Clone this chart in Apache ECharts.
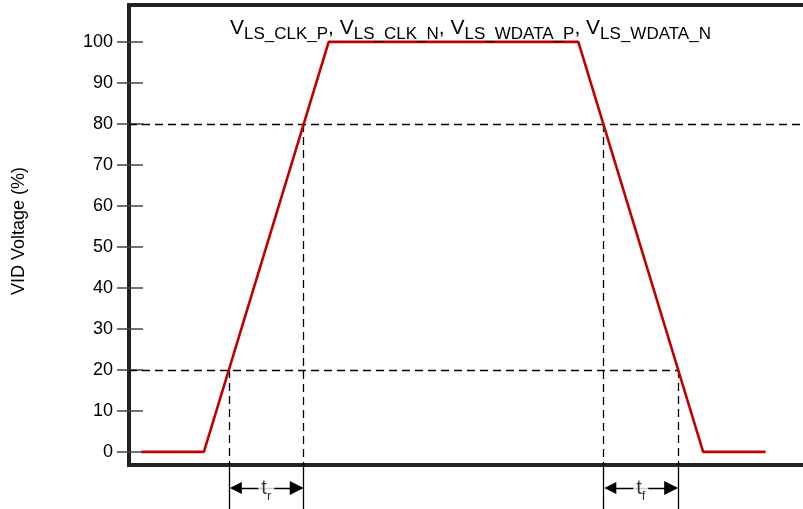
<!DOCTYPE html>
<html>
<head>
<meta charset="utf-8">
<script src="https://cdn.jsdelivr.net/npm/echarts@6/dist/echarts.min.js"></script>
<style>
  html, body { margin: 0; padding: 0; background: #fff; }
  #chart { width: 803px; height: 509px; }
</style>
</head>
<body>
<div id="chart"></div>
<script>
// Low-speed signal waveform (time in arbitrary units, voltage in % of VID)
const waveTime = [1, 6, 16, 36, 46, 51];
const waveLevel = [0, 0, 100, 100, 0, 0];

// Threshold levels used to measure rise / fall time
const thresholdLow = 20;
const thresholdHigh = 80;

// Time points where the edge crosses the thresholds
const riseCross = [8, 14];   // 20% -> 80% on the rising edge
const fallCross = [38, 44];  // 80% -> 20% on the falling edge

// Y axis tick labels
const yTicks = [0, 10, 20, 30, 40, 50, 60, 70, 80, 90, 100];

// Axis extents
const xMin = 0, xMax = 54;
const yMin = -3.2, yMax = 109;

// Level (below the frame) at which the timing arrows sit
const arrowLevel = -8.8;
const extBottom = -14.5;

const FONT = 'Liberation Sans, Arial, Helvetica, sans-serif';
const GRID_W = 675;
const ARROW_LEN = 14;   // arrowhead length in px
// half an arrowhead expressed in x units, so the tips touch the extension lines
const arrowInset = (ARROW_LEN / 2) * (xMax - xMin) / GRID_W;

const chart = echarts.init(document.getElementById('chart'));

const frameLine = { color: '#222', width: 4, cap: 'square' };
const dashed = { color: '#000', width: 1.3, type: [8, 5], opacity: 1 };
const solid = { color: '#000', width: 1.3, opacity: 1 };

const wave = waveTime.map((t, i) => [t, waveLevel[i]]);

// Dashed guide lines: threshold levels and crossing times
const guides = [
  { coords: [[xMin, thresholdHigh], [xMax, thresholdHigh]] },
  { coords: [[xMin, thresholdLow], [fallCross[1], thresholdLow]] },
  { coords: [[riseCross[0], thresholdLow], [riseCross[0], yMin]] },
  { coords: [[riseCross[1], thresholdHigh], [riseCross[1], yMin]] },
  { coords: [[fallCross[0], thresholdHigh], [fallCross[0], yMin]] },
  { coords: [[fallCross[1], thresholdLow], [fallCross[1], yMin]] }
];

// Solid extension lines below the frame
const extensions = riseCross.concat(fallCross).map(t => ({ coords: [[t, yMin], [t, extBottom]] }));

// Double-headed timing arrows
const arrows = [riseCross, fallCross].map(p => ({
  coords: [[p[0] + arrowInset, arrowLevel], [p[1] - arrowInset, arrowLevel]]
}));

const subRich = {
  v: { fontSize: 21, fontWeight: 'normal', fontFamily: FONT, color: '#000', lineHeight: 24, verticalAlign: 'bottom' },
  s: { fontSize: 17, fontWeight: 'normal', fontFamily: FONT, color: '#000', lineHeight: 17, verticalAlign: 'bottom', padding: [0, 0, -4, 0] }
};

const signalNames = ['LS_CLK_P', 'LS_CLK_N', 'LS_WDATA_P', 'LS_WDATA_N'];
const titleText = signalNames.map(n => '{v|V}{s|' + n + '}').join('{v|, }');

function timingLabel(pair, sub) {
  return {
    type: 'scatter',
    silent: true,
    symbolSize: 0,
    clip: false,
    z: 5,
    data: [[(pair[0] + pair[1]) / 2, arrowLevel]],
    label: {
      show: true,
      position: 'inside',
      formatter: '{t|t}{u|' + sub + '}',
      backgroundColor: '#fff',
      padding: [0, 3, 0, 3],
      rich: {
        t: { fontSize: 20, fontFamily: FONT, color: '#000', lineHeight: 22, verticalAlign: 'bottom' },
        u: { fontSize: 13, fontFamily: FONT, color: '#000', lineHeight: 13, verticalAlign: 'bottom', padding: [0, 0, -4, 0] }
      }
    }
  };
}

chart.setOption({
  animation: false,
  title: {
    text: titleText,
    left: 225,
    top: 10,
    textStyle: { fontWeight: 'normal', rich: subRich }
  },
  graphic: [{
    type: 'text',
    x: 19,
    y: 231,
    rotation: Math.PI / 2,
    style: {
      text: 'VID Voltage (%)',
      font: '18px ' + FONT,
      fill: '#000',
      align: 'center',
      verticalAlign: 'middle'
    }
  }],
  grid: { left: 129, top: 5, width: GRID_W, height: 460, containLabel: false },
  xAxis: [
    {
      type: 'value', min: xMin, max: xMax, position: 'bottom',
      axisLine: { show: true, onZero: false, lineStyle: frameLine },
      axisTick: { show: false }, axisLabel: { show: false }, splitLine: { show: false }
    },
    {
      type: 'value', min: xMin, max: xMax, position: 'top',
      axisLine: { show: true, onZero: false, lineStyle: frameLine },
      axisTick: { show: false }, axisLabel: { show: false }, splitLine: { show: false }
    }
  ],
  yAxis: [
    {
      type: 'value', min: yMin, max: yMax, position: 'left',
      axisLine: { show: true, onZero: false, lineStyle: frameLine },
      axisTick: { show: true, customValues: yTicks, length: 12, lineStyle: { color: '#444', width: 1.5 } },
      axisLabel: { show: true, customValues: yTicks, margin: 16, fontSize: 18, fontFamily: FONT, color: '#000' },
      splitLine: { show: false }
    },
    {
      type: 'value', min: yMin, max: yMax, position: 'left',
      axisLine: { show: false },
      axisTick: { show: true, inside: true, customValues: yTicks, length: 14, lineStyle: { color: '#444', width: 1.5 } },
      axisLabel: { show: false },
      splitLine: { show: false }
    }
  ],
  series: [
    {
      type: 'lines', coordinateSystem: 'cartesian2d', silent: true, z: 2,
      lineStyle: dashed, data: guides
    },
    {
      type: 'lines', coordinateSystem: 'cartesian2d', silent: true, clip: false, z: 2,
      lineStyle: solid, data: extensions
    },
    {
      type: 'lines', coordinateSystem: 'cartesian2d', silent: true, clip: false, z: 3,
      symbol: ['triangle', 'triangle'], symbolSize: [12, ARROW_LEN],
      itemStyle: { color: '#000' },
      lineStyle: solid, data: arrows
    },
    {
      type: 'line', data: wave, z: 3, silent: true,
      showSymbol: false, symbol: 'none',
      lineStyle: { color: '#c00000', width: 2.6 }
    },
    timingLabel(riseCross, 'r'),
    timingLabel(fallCross, 'f')
  ]
});
</script>
</body>
</html>
